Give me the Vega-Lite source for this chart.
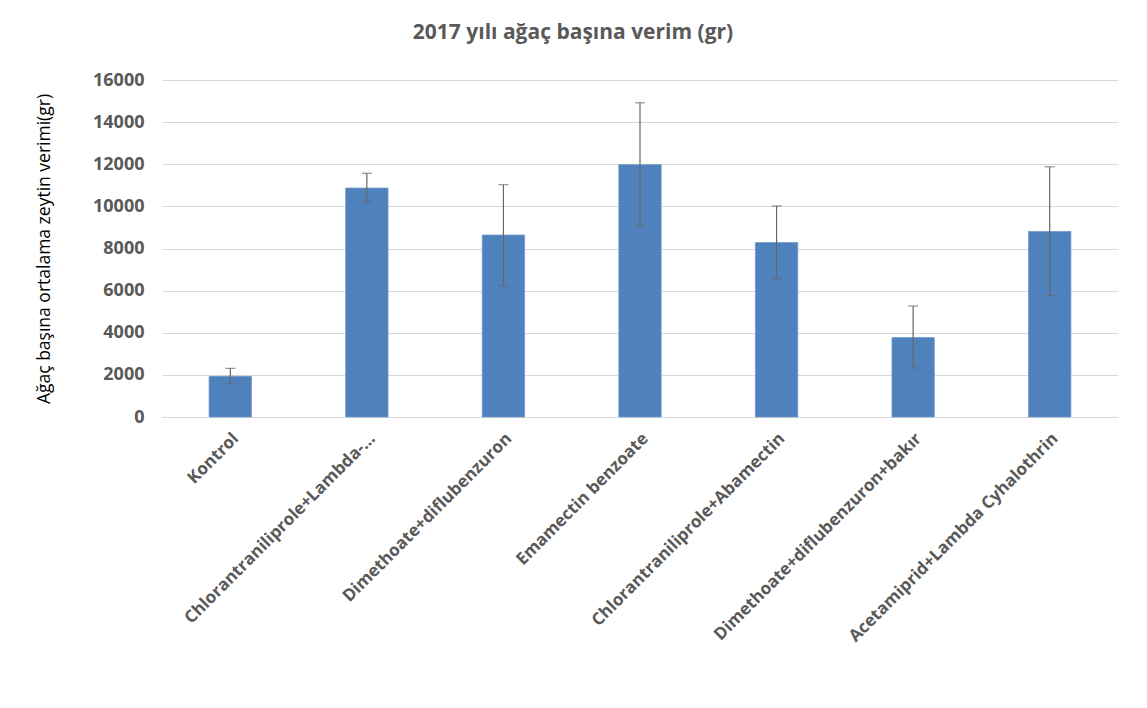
{
  "$schema": "https://vega.github.io/schema/vega-lite/v6.json",
  "autosize": {"type": "none"},
  "width": 956,
  "height": 337,
  "padding": {"left": 162, "top": 80, "right": 29, "bottom": 291},
  "background": "white",
  "title": {
    "text": "2017 yılı ağaç başına verim (gr)",
    "anchor": "middle",
    "dx": -67,
    "offset": 28,
    "font": "Open Sans",
    "fontSize": 21,
    "fontWeight": "bold",
    "color": "#595959"
  },
  "data": {
    "values": [
      {"ilac": "Kontrol", "verim": 1930, "alt": 1580, "ust": 2310},
      {"ilac": "Chlorantraniliprole+Lambda-…", "verim": 10870, "alt": 10220, "ust": 11570},
      {"ilac": "Dimethoate+diflubenzuron", "verim": 8640, "alt": 6220, "ust": 11030},
      {"ilac": "Emamectin benzoate", "verim": 11980, "alt": 9070, "ust": 14920},
      {"ilac": "Chlorantraniliprole+Abamectin", "verim": 8280, "alt": 6570, "ust": 10020},
      {"ilac": "Dimethoate+diflubenzuron+bakır", "verim": 3770, "alt": 2330, "ust": 5270},
      {"ilac": "Acetamiprid+Lambda Cyhalothrin", "verim": 8810, "alt": 5760, "ust": 11880}
    ]
  },
  "encoding": {
    "x": {
      "field": "ilac",
      "type": "nominal",
      "sort": null,
      "scale": {"paddingInner": 0.69, "paddingOuter": 0.345},
      "axis": {
        "title": null,
        "labelAngle": -45,
        "labelAlign": "right",
        "labelBaseline": "top",
        "labelPadding": 13,
        "labelFont": "Open Sans",
        "labelFontSize": 17,
        "labelFontWeight": "bold",
        "labelColor": "#595959",
        "labelLimit": 400,
        "ticks": false,
        "domainColor": "#d9d9d9",
        "domainWidth": 1
      }
    }
  },
  "layer": [
    {
      "mark": {"type": "bar", "color": "#4f81bd", "stroke": "#6f97cc", "strokeWidth": 0.8},
      "encoding": {
        "y": {
          "field": "verim",
          "type": "quantitative",
          "scale": {"domain": [0, 16000]},
          "axis": {
            "title": "Ağaç başına ortalama zeytin verimi(gr)",
            "titleFont": "Open Sans",
            "titleFontSize": 17.5,
            "titleFontWeight": "normal",
            "titleColor": "#000000",
            "titleAngle": -90,
            "titleX": -118,
            "titleY": 168.5,
            "titleAlign": "center",
            "titleBaseline": "middle",
            "values": [0, 2000, 4000, 6000, 8000, 10000, 12000, 14000, 16000],
            "format": "d",
            "labelFont": "Open Sans",
            "labelFontSize": 18,
            "labelFontWeight": "bold",
            "labelColor": "#595959",
            "labelPadding": 18,
            "ticks": false,
            "domain": false,
            "gridColor": "#d9d9d9",
            "gridWidth": 1
          }
        }
      }
    },
    {
      "mark": {"type": "rule", "color": "#666666", "strokeWidth": 1.2},
      "encoding": {
        "y": {"field": "alt", "type": "quantitative"},
        "y2": {"field": "ust"}
      }
    },
    {
      "mark": {"type": "tick", "color": "#666666", "thickness": 1.2, "size": 10},
      "encoding": {"y": {"field": "alt", "type": "quantitative"}}
    },
    {
      "mark": {"type": "tick", "color": "#666666", "thickness": 1.2, "size": 10},
      "encoding": {"y": {"field": "ust", "type": "quantitative"}}
    }
  ],
  "config": {"view": {"stroke": null}}
}
